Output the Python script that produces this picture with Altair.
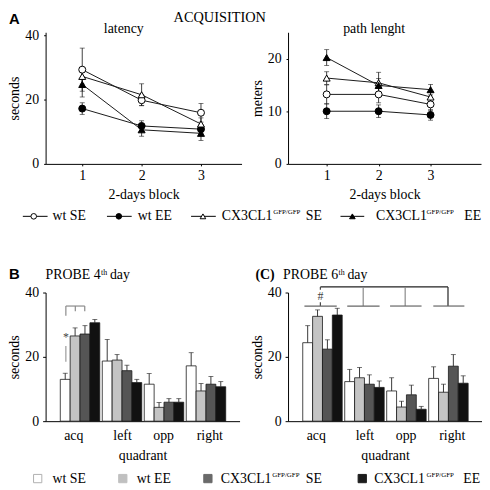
import altair as alt
import pandas as pd

SERIF = "Liberation Serif"
SANS = "Liberation Sans"

# ---------------- data ----------------
GROUPS = ["wt SE", "wt EE", "CX3CL1 SE", "CX3CL1 EE"]
BLOCKS = [1, 2, 3]

LAT_WT_SE = [29.3, 19.8, 15.9]
LAT_WT_SE_ERR = [6.7, 1.7, 2.9]
LAT_WT_EE = [17.2, 11.8, 10.8]
LAT_WT_EE_ERR = [1.8, 1.6, 1.4]
LAT_KO_SE = [27.2, 21.5, 12.4]
LAT_KO_SE_ERR = [2.4, 3.4, 1.9]
LAT_KO_EE = [24.7, 10.6, 9.5]
LAT_KO_EE_ERR = [3.9, 2.0, 2.2]

PATH_WT_SE = [13.2, 13.2, 11.3]
PATH_WT_SE_ERR = [1.8, 1.6, 1.2]
PATH_WT_EE = [10.0, 10.0, 9.3]
PATH_WT_EE_ERR = [1.4, 1.2, 1.0]
PATH_KO_SE = [16.3, 15.4, 12.7]
PATH_KO_SE_ERR = [1.2, 2.0, 1.1]
PATH_KO_EE = [20.2, 14.9, 14.1]
PATH_KO_EE_ERR = [1.5, 1.3, 1.0]

QUADRANTS = ["acq", "left", "opp", "right"]
P4_WT_SE = [13.0, 18.7, 11.5, 17.2]
P4_WT_SE_ERR = [1.9, 6.7, 3.3, 4.1]
P4_WT_EE = [26.5, 19.0, 4.3, 9.4]
P4_WT_EE_ERR = [2.5, 1.7, 1.5, 2.3]
P4_KO_SE = [27.1, 15.7, 5.9, 11.5]
P4_KO_SE_ERR = [2.6, 1.7, 1.1, 2.4]
P4_KO_EE = [30.6, 12.0, 5.9, 10.7]
P4_KO_EE_ERR = [1.0, 1.0, 1.1, 1.6]

P6_WT_SE = [24.4, 12.3, 9.4, 13.3]
P6_WT_SE_ERR = [5.3, 3.8, 4.1, 3.6]
P6_WT_EE = [32.6, 13.5, 4.4, 9.0]
P6_WT_EE_ERR = [2.0, 3.2, 1.8, 2.5]
P6_KO_SE = [22.4, 11.5, 8.2, 17.1]
P6_KO_SE_ERR = [2.9, 2.9, 3.0, 3.6]
P6_KO_EE = [33.0, 10.5, 3.7, 11.8]
P6_KO_EE_ERR = [2.1, 2.0, 0.9, 2.3]

# significance marks (x in quadrant units, y in seconds)
P4_SEG_X = [-0.3375, -0.3375, -0.1125, 0.1125, -0.3375]
P4_SEG_X2 = [0.1125, -0.3375, -0.1125, 0.1125, -0.3375]
P4_SEG_Y = [35.8, 35.8, 35.8, 35.8, 23.4]
P4_SEG_Y2 = [35.8, 32.8, 34.2, 34.2, 18.5]
P4_SEG_COL = ["#8a8a8a", "#8a8a8a", "#8a8a8a", "#8a8a8a", "#9a9a9a"]
P4_STAR = ("*", -0.3375, 26.2)

P6_SEG_X = [-0.05, -0.05, -0.05, 0.97, 1.97, 2.99, -0.43, 0.59, 1.61, 2.64]
P6_SEG_X2 = [2.99, -0.05, -0.05, 0.97, 1.97, 2.99, 0.34, 1.36, 2.36, 3.38]
P6_SEG_Y = [41.75, 41.75, 37.0, 41.75, 41.75, 41.75, 35.8, 35.8, 35.8, 35.8]
P6_SEG_Y2 = [41.75, 40.9, 35.8, 35.8, 35.8, 35.8, 35.8, 35.8, 35.8, 35.8]
P6_SEG_COL = ["#222222", "#444444", "#444444", "#8a8a8a", "#8a8a8a", "#222222",
              "#666666", "#666666", "#666666", "#666666"]
P6_HASH = ("#", -0.05, 38.9)

# ---------------- styling / layout ----------------
SHAPES = ["circle", "circle", "triangle-up", "triangle-up"]
POINT_FILLS = ["white", "black", "white", "black"]
BAR_FILLS = ["#ffffff", "#c4c4c4", "#555555", "#111111"]
LEG_SQ_FILLS = ["#ffffff", "#c0c0c0", "#6a6a6a", "#1c1c1c"]
LEG_SQ_STROKES = ["#b0b0b0", "#c0c0c0", "#6a6a6a", "#1c1c1c"]
BW = 0.235  # bar width in quadrant units
BAR_XDOM = [-0.82, 3.8]
QUAD_LABEL_POS = [-0.16, 1.0, 1.98, 3.08]


def line_df(means, errs):
    rows = []
    for gi, (g, m, e) in enumerate(zip(GROUPS, means, errs)):
        for b, v, s in zip(BLOCKS, m, e):
            rows.append({"group": g, "block": b, "mean": v, "lo": v - s, "hi": v + s,
                         "shape": SHAPES[gi], "fc": POINT_FILLS[gi]})
    return pd.DataFrame(rows)


def bar_df(means, errs):
    rows = []
    for gi, (g, m, e) in enumerate(zip(GROUPS, means, errs)):
        for qi, (v, s) in enumerate(zip(m, e)):
            c = qi + (gi - 1.5) * BW
            rows.append({"group": g, "q": QUADRANTS[qi], "xc": c, "x0": c - BW / 2,
                         "x1": c + BW / 2, "mean": v, "hi": v + s, "base": 0,
                         "fc": BAR_FILLS[gi]})
    return pd.DataFrame(rows)


def label(text, x, y, size=14, font=SERIF, weight="normal", align="left"):
    return alt.Chart(pd.DataFrame({"t": [text]})).mark_text(
        align=align, baseline="alphabetic", font=font, fontSize=size,
        fontWeight=weight, color="black"
    ).encode(text="t:N", x=alt.value(x), y=alt.value(y))


def line_panel(df, xdom, ydom, yvals, ytitle, width, height, texts):
    xs = alt.Scale(domain=xdom, nice=False, zero=False)
    ys = alt.Scale(domain=ydom, nice=False, zero=False)
    xax = alt.Axis(values=BLOCKS, format="d", title="2-days block", labelPadding=3, tickSize=2,
                   titlePadding=5, labelFlush=False)
    yax = alt.Axis(values=yvals, title=ytitle, labelFlush=False, tickSize=2, labelPadding=5)
    base = alt.Chart(df)
    X = alt.X("block:Q", scale=xs, axis=xax)
    err = base.mark_rule(color="#111111", strokeWidth=0.8).encode(
        x=X, y=alt.Y("lo:Q", scale=ys, axis=yax), y2="hi:Q")
    cap_hi = base.mark_tick(orient="horizontal", size=5, thickness=0.8, color="#111111").encode(
        x=X, y=alt.Y("hi:Q", scale=ys))
    cap_lo = base.mark_tick(orient="horizontal", size=5, thickness=0.8, color="#111111").encode(
        x=X, y=alt.Y("lo:Q", scale=ys))
    line = base.mark_line(color="#1a1a1a", strokeWidth=1).encode(
        x=X, y=alt.Y("mean:Q", scale=ys), detail="group:N")
    pts = base.mark_point(filled=True, size=50, stroke="black", strokeWidth=1, opacity=1).encode(
        x=X, y=alt.Y("mean:Q", scale=ys),
        shape=alt.Shape("shape:N", scale=None), fill=alt.Fill("fc:N", scale=None))
    return alt.layer(err, cap_hi, cap_lo, line, pts, *texts).properties(width=width, height=height)


def bar_panel(df, segs, mark_text, width, height, texts):
    xs = alt.Scale(domain=BAR_XDOM, nice=False, zero=False)
    ys = alt.Scale(domain=[0, 40], nice=False)
    expr = "[" + ",".join("'%s'" % q for q in QUADRANTS) + "][round(datum.value)]"
    xax = alt.Axis(values=QUAD_LABEL_POS, labelExpr=expr, ticks=False, labelPadding=8,
                   title="quadrant", titlePadding=6, labelFlush=False)
    yax = alt.Axis(values=[0, 10, 20, 30, 40], title="seconds", labelFlush=False)
    base = alt.Chart(df)
    bars = base.mark_rect(stroke="#1a1a1a", strokeWidth=0.8).encode(
        x=alt.X("x0:Q", scale=xs, axis=xax), x2="x1:Q",
        y=alt.Y("mean:Q", scale=ys, axis=yax), y2="base:Q",
        fill=alt.Fill("fc:N", scale=None))
    err = base.mark_rule(color="#222222", strokeWidth=0.9).encode(
        x=alt.X("xc:Q", scale=xs), y=alt.Y("mean:Q", scale=ys), y2="hi:Q")
    cap = base.mark_tick(orient="horizontal", size=5, thickness=0.9, color="#222222").encode(
        x=alt.X("xc:Q", scale=xs), y=alt.Y("hi:Q", scale=ys))
    sx, sx2, sy, sy2, scol = segs
    sdf = pd.DataFrame({"x": sx, "x2": sx2, "y": sy, "y2": sy2, "c": scol})
    sig = alt.Chart(sdf).mark_rule(strokeWidth=1.2).encode(
        x=alt.X("x:Q", scale=xs), x2="x2:Q", y=alt.Y("y:Q", scale=ys), y2="y2:Q",
        color=alt.Color("c:N", scale=None))
    t, tx, ty = mark_text
    mdf = pd.DataFrame({"t": [t], "x": [tx], "y": [ty]})
    mt = alt.Chart(mdf).mark_text(font=SERIF, fontSize=12, color="#444444", fill="#444444",
                                  baseline="middle").encode(
        x=alt.X("x:Q", scale=xs), y=alt.Y("y:Q", scale=ys), text="t:N")
    return alt.layer(bars, err, cap, sig, mt, *texts).properties(width=width, height=height)


# ---------------- panels ----------------
lat = line_df([LAT_WT_SE, LAT_WT_EE, LAT_KO_SE, LAT_KO_EE],
              [LAT_WT_SE_ERR, LAT_WT_EE_ERR, LAT_KO_SE_ERR, LAT_KO_EE_ERR])
path = line_df([PATH_WT_SE, PATH_WT_EE, PATH_KO_SE, PATH_KO_EE],
               [PATH_WT_SE_ERR, PATH_WT_EE_ERR, PATH_KO_SE_ERR, PATH_KO_EE_ERR])

A1 = line_panel(lat, [0.383, 3.683], [0, 40 * 133 / 130], [0, 10, 20, 30, 40], "seconds", 198, 133,
                [label("A", -37, -8, size=15, font=SANS, weight="bold"),
                 label("ACQUISITION", 176, -10, size=14.5, align="center"),
                 label("latency", 79, 1, align="center")])
A2 = line_panel(path, [0.257, 3.971], [0, 25], [0, 5, 10, 15, 20, 25], "meters", 195, 133,
                [label("path lenght", 87, 1, align="center")])

p4 = bar_df([P4_WT_SE, P4_WT_EE, P4_KO_SE, P4_KO_EE],
            [P4_WT_SE_ERR, P4_WT_EE_ERR, P4_KO_SE_ERR, P4_KO_EE_ERR])
p6 = bar_df([P6_WT_SE, P6_WT_EE, P6_KO_SE, P6_KO_EE],
            [P6_WT_SE_ERR, P6_WT_EE_ERR, P6_KO_SE_ERR, P6_KO_EE_ERR])

B = bar_panel(p4, (P4_SEG_X, P4_SEG_X2, P4_SEG_Y, P4_SEG_Y2, P4_SEG_COL), P4_STAR, 196, 130,
              [label("B", -37, -14, size=15, font=SANS, weight="bold"),
               label("PROBE 4", 0, -14), label("th", 56, -18, size=8), label("day", 65, -14)])
C = bar_panel(p6, (P6_SEG_X, P6_SEG_X2, P6_SEG_Y, P6_SEG_Y2, P6_SEG_COL), P6_HASH, 196, 130,
              [label("(C)", -33, -14, weight="bold"),
               label("PROBE 6", -5, -14), label("th", 51, -18, size=8), label("day", 60, -14)])

# ---------------- legends ----------------
LEGA_SEG = [(-23, 2), (62, 87), (147, 172), (298, 322)]
LEGA_SYM = [-12, 74, 159, 310]
LEGA_Y = 53
LEG_TEXT = ["wt SE", "wt EE", "CX3CL1", "GFP/GFP", "SE", "CX3CL1", "GFP/GFP", "EE"]
LEG_SIZE = [14, 14, 14, 7, 14, 14, 7, 14]
LEG_RAISE = [0, 0, 0, -4, 0, 0, -4, 0]
LEGA_TX = [7, 93, 178, 230, 263, 334, 385, 423]
LEGB_SQ = [-8, 78, 164, 320]
LEGB_Y = 58
LEGB_TX = [7, 92, 177, 229, 263, 332, 385, 422]

lega_df = pd.DataFrame({"x1": [s[0] for s in LEGA_SEG], "x2": [s[1] for s in LEGA_SEG],
                        "sx": LEGA_SYM, "shape": SHAPES, "fc": POINT_FILLS})
lega_rule = alt.Chart(lega_df).mark_rule(color="black", strokeWidth=1).encode(
    x=alt.X("x1:Q", scale=None), x2="x2:Q", y=alt.value(LEGA_Y))
lega_pts = alt.Chart(lega_df).mark_point(filled=True, size=32, stroke="black", strokeWidth=1,
                                         opacity=1).encode(
    x=alt.X("sx:Q", scale=None), y=alt.value(LEGA_Y),
    shape=alt.Shape("shape:N", scale=None), fill=alt.Fill("fc:N", scale=None))


def legend_text(xs, y0):
    df = pd.DataFrame({"t": LEG_TEXT, "x": xs, "y": [y0 + r for r in LEG_RAISE], "s": LEG_SIZE})
    return alt.Chart(df).mark_text(align="left", baseline="middle", font=SERIF, color="black").encode(
        x=alt.X("x:Q", scale=None), y=alt.Y("y:Q", scale=None), text="t:N",
        size=alt.Size("s:Q", scale=None))


legA = alt.layer(lega_rule, lega_pts, legend_text(LEGA_TX, LEGA_Y)).properties(width=198, height=130)

legb_df = pd.DataFrame({"sx": LEGB_SQ, "fc": LEG_SQ_FILLS, "sc": LEG_SQ_STROKES})
legb_sq = alt.Chart(legb_df).mark_point(shape="square", filled=True, size=70, strokeWidth=1,
                                        opacity=1).encode(
    x=alt.X("sx:Q", scale=None), y=alt.value(LEGB_Y),
    fill=alt.Fill("fc:N", scale=None), stroke=alt.Stroke("sc:N", scale=None))
legB = alt.layer(legb_sq, legend_text(LEGB_TX, LEGB_Y)).properties(width=198, height=40)

spacer = alt.Chart(pd.DataFrame({"a": [0]})).mark_point(opacity=0).encode(
    x=alt.value(0), y=alt.value(0)).properties(width=1, height=1)

chart = alt.concat(
    A1, A2, legA, spacer, B, C, legB, columns=2,
    spacing=alt.RowColnumber(row=0, column=47), bounds="flush", padding=0
).configure_view(
    stroke=None
).configure_axis(
    grid=False, domainColor="black", domainWidth=1, tickColor="black", tickSize=3,
    labelColor="black", titleColor="black", labelFont=SERIF, titleFont=SERIF,
    labelFontSize=14, titleFontSize=14, titleFontWeight="normal", labelPadding=4, titlePadding=3
)

chart.save("out.html", embed_options={"renderer": "svg", "actions": False})
